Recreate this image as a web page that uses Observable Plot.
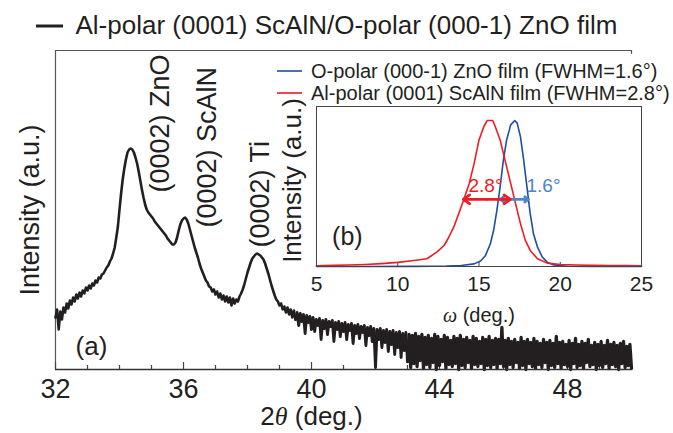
<!DOCTYPE html>
<html><head><meta charset="utf-8">
<script src="https://cdn.jsdelivr.net/npm/d3@7"></script>
<script src="https://cdn.jsdelivr.net/npm/@observablehq/plot@0.6"></script>
<style>
body{margin:0;background:#fff;}
#wrap{position:relative;width:673px;height:433px;}
#wrap svg{position:absolute;overflow:visible;}
</style></head><body><div id="wrap"></div>
<script>
// ---- Main XRD scan (2θ from 32 to 50 in 0.05° steps), intensity in arbitrary units ----
const twoThetaStart = 32;
const twoThetaStep = 0.05;
const intensityMain = [
52,60,40,58,50,62,57,66,61,69,65,72,68,75,71,77,73,79,76,82,79,
84,81,86,84,89,87,92,91,95,96,99,102,104,108,111,116,122,132,143,160,
176,190,201,210,217,220,221,220,217,212,206,198,189,180,172,165,160,157,155,153,
151,148,146,144,142,140,138,136,134,131,129,127,125,125,127,132,139,145,149,151,
152,150,146,140,134,128,122,117,112,106,101,97,93,89,87,83,82,78,80,75,
78,72,76,70,74,68,73,67,72,64,71,66,70,68,73,76,80,85,91,97,
102,107,111,113,115,116,115,114,112,110,106,101,96,90,84,79,74,70,68,64,
66,60,63,57,62,55,60,52,59,50,57,44,56,48,55,36,54,47,53,40,
52,38,50,44,51,30,49,41,50,35,48,43,49,28,47,40,48,33,46,38,
47,30,45,39,46,26,44,36,45,31,43,37,44,24,42,34,43,28,41,2,
40,30,41,22,39,27,40,18,38,25,39,15,37,22,38,12,36,19,37,8,
35,2,34,6,36,3,33,9,35,1,32,5,34,2,31,7,35,0,33,4,
30,8,34,1,32,5,29,3,33,6,31,0,34,4,30,2,32,7,29,1,
33,5,31,3,28,6,32,0,30,4,33,2,29,5,31,1,30,6,42,3,
29,0,31,5,28,2,30,7,27,1,32,4,28,0,30,6,27,3,31,1,
28,5,26,2,30,7,27,0,29,4,26,2,33,6,27,1,28,5,25,3,
29,0,26,6,31,2,25,4,28,1,26,7,30,3,24,5,27,0,25,4,
28,2,24,6,29,1,25,5,27,3,24,0,26,6,28,2,23,4,25,1
];
const twoTheta = intensityMain.map((_, i) => +(twoThetaStart + i * twoThetaStep).toFixed(2));
const majorTicks = [32, 36, 40, 44, 48];
const minorTicks = [33, 34, 35, 37, 38, 39, 41, 42, 43, 45, 46, 47, 49];
const peakNames = ["(0002) ZnO", "(0002) ScAlN", "(0002) Ti"];
const mainLegend = "Al-polar (0001) ScAlN/O-polar (000-1) ZnO film";

// ---- Inset: rocking curves ----
const omegaScAlN = [5,6,7,8,9,10,11,11.8,12.4,12.85,13.15,13.45,13.75,14.05,14.4,14.7,15.0,15.3,15.5,15.85,16.0,16.3,16.6,16.95,17.25,17.55,17.85,18.15,18.6,19.2,20,21,22,23,24,25];
const intScAlN   = [0.005,0.008,0.01,0.014,0.02,0.028,0.041,0.053,0.099,0.144,0.202,0.271,0.362,0.454,0.569,0.706,0.867,0.959,1.0,1.0,0.959,0.867,0.729,0.569,0.431,0.294,0.179,0.11,0.053,0.023,0.014,0.01,0.008,0.007,0.006,0.005];
const omegaZnO = [5,8,11,13,13.9,14.7,15.1,15.4,15.7,15.9,16.1,16.3,16.5,16.7,16.95,17.2,17.35,17.55,17.75,17.95,18.15,18.35,18.6,18.9,19.2,19.6,20.4,22,25];
const intZnO   = [0,0,0.001,0.003,0.007,0.018,0.037,0.076,0.156,0.248,0.385,0.546,0.729,0.867,0.97,1.0,0.982,0.89,0.729,0.546,0.362,0.225,0.133,0.064,0.03,0.011,0.002,0,0];
const omegaTicks = [5, 10, 15, 20, 25];
const fwhmZnO = [16.3, 18.05];
const fwhmScAlN = [14.03, 16.94];
const insetLegend = ["O-polar (000-1) ZnO film (FWHM=1.6°)", "Al-polar (0001) ScAlN film (FWHM=2.8°)"];

const FONT = "'Liberation Sans', Arial, Helvetica, sans-serif";
const SERIF = "'Liberation Serif', 'Times New Roman', serif";
const INK = "#231f20";
const BLUE = "#1f4fa3", RED = "#ec1c24", LBLUE = "#4f84c8";

const mainData = twoTheta.map((x, i) => ({x, y: intensityMain[i]}));
const smoothPart = mainData.filter(d => d.x <= 39.5);
const midPart = mainData.filter(d => d.x >= 39.5 && d.x <= 43);
const noisyPart = mainData.filter(d => d.x >= 43);

const main = Plot.plot({
  width: 673, height: 433,
  marginLeft: 55, marginRight: 42, marginTop: 50, marginBottom: 64,
  x: {domain: [32, 50], axis: null},
  y: {domain: [0, 319], axis: null},
  style: {fontFamily: FONT, background: "transparent", color: INK, overflow: "visible"},
  marks: [
    Plot.ruleX([32], {y1: 0, y2: 319, stroke: "#555", strokeWidth: 1.2}),
    Plot.ruleY([319], {x1: 32, x2: 50, stroke: "#555", strokeWidth: 1.2}),
    Plot.ruleX([50], {y1: 319, y2: 315, stroke: "#555", strokeWidth: 1.2}),
    Plot.ruleX(majorTicks, {y1: 0, y2: 7, stroke: "#444", strokeWidth: 1.2}),
    Plot.ruleX(minorTicks, {y1: 0, y2: 4, stroke: "#444", strokeWidth: 1.2}),
    Plot.line(smoothPart, {x: "x", y: "y", stroke: INK, strokeWidth: 2.6, strokeLinejoin: "round"}),
    Plot.line(midPart, {x: "x", y: "y", stroke: INK, strokeWidth: 2.9, strokeLinejoin: "round"}),
    Plot.line(noisyPart, {x: "x", y: "y", stroke: INK, strokeWidth: 3.3, strokeLinejoin: "round"}),
    Plot.ruleY([0], {x1: 32, x2: 50, stroke: "#333", strokeWidth: 1.5}),
    Plot.text(majorTicks, {x: d => d, y: -20, text: d => String(d), fontSize: 27, lineAnchor: "middle", fill: INK}),
    Plot.text(["2θ (deg.)"], {x: 40, y: -47, text: d => d, fontSize: 26, lineAnchor: "middle", fill: INK}),
    Plot.text(["Intensity (a.u.)"], {frameAnchor: "left", dx: -25, rotate: -90, textAnchor: "middle", lineAnchor: "middle", text: d => d, fontSize: 27, fill: INK}),
    Plot.text([mainLegend], {frameAnchor: "top-left", dx: 20, dy: -25, textAnchor: "start", lineAnchor: "middle", text: d => d, fontSize: 26, fill: INK}),
    Plot.text(["(a)"], {x: 33.125, y: 23, text: d => d, fontSize: 26, lineAnchor: "middle", fill: INK}),
    Plot.text(peakNames, {
      x: [35.28, 36.75, 38.41], y: [177, 142, 122],
      text: d => d, rotate: -90, textAnchor: "start", lineAnchor: "middle", fontSize: 27, fill: INK
    })
  ]
});

const svgMain = d3.select(main);
svgMain.append("line").attr("x1", 36).attr("x2", 63).attr("y1", 26).attr("y2", 26)
  .attr("stroke", INK).attr("stroke-width", 3);
svgMain.style("left", "0px").style("top", "0px");
document.getElementById("wrap").appendChild(main);

const redData = omegaScAlN.map((x, i) => ({x, y: intScAlN[i]}));
const blueData = omegaZnO.map((x, i) => ({x, y: intZnO[i]}));
const midZ = (fwhmZnO[0] + fwhmZnO[1]) / 2, midS = (fwhmScAlN[0] + fwhmScAlN[1]) / 2;
const yArrow = 0.46;

const inset = Plot.plot({
  width: 423, height: 280,
  marginLeft: 66, marginRight: 32, marginTop: 56, marginBottom: 64,
  x: {domain: [5, 25], axis: null},
  y: {domain: [0, 1.096], axis: null},
  style: {fontFamily: FONT, background: "transparent", color: INK, overflow: "visible"},
  marks: [
    Plot.ruleX([10, 15, 20], {y1: 0, y2: 0.028, stroke: "#444"}),
    Plot.line(blueData, {x: "x", y: "y", stroke: BLUE, strokeWidth: 1.6}),
    Plot.line(redData, {x: "x", y: "y", stroke: RED, strokeWidth: 1.6}),
    Plot.arrow([fwhmZnO[0], fwhmZnO[1]], {x1: midZ, y1: yArrow, x2: d => d, y2: yArrow, stroke: LBLUE, strokeWidth: 2.6, headLength: 9, headAngle: 70}),
    Plot.arrow([fwhmScAlN[0], fwhmScAlN[1]], {x1: midS, y1: yArrow, x2: d => d, y2: yArrow, stroke: RED, strokeWidth: 2.6, headLength: 9, headAngle: 70}),
    Plot.text(["2.8°"], {x: 15.4, y: 0.555, text: d => d, fontSize: 19, fill: RED, lineAnchor: "middle"}),
    Plot.text(["1.6°"], {x: 18.97, y: 0.555, text: d => d, fontSize: 19, fill: LBLUE, lineAnchor: "middle"}),
    Plot.text(["(b)"], {x: 6.9, y: 0.2, text: d => d, fontSize: 25, fill: INK, lineAnchor: "middle"}),
    Plot.frame({stroke: "#444", strokeWidth: 1}),
    Plot.text(omegaTicks, {x: d => d, y: -0.12, text: d => String(d), fontSize: 21, lineAnchor: "middle", fill: INK}),
    Plot.text(["ω (deg.)"], {frameAnchor: "bottom", dy: 49, text: d => d, fontSize: 20, textAnchor: "middle", lineAnchor: "middle", fill: INK}),
    Plot.text(["Intensity (a.u.)"], {frameAnchor: "left", dx: -24, dy: -6, rotate: -90, textAnchor: "middle", lineAnchor: "middle", text: d => d, fontSize: 26, fill: INK})
  ]
});
const svgInset = d3.select(inset);
svgInset.style("left", "250px").style("top", "50px");
[[insetLegend[0], BLUE, 21], [insetLegend[1], RED, 43]].forEach(([t, c, y]) => {
  svgInset.append("line").attr("x1", 27).attr("x2", 52).attr("y1", y).attr("y2", y).attr("stroke", c).attr("stroke-width", 1.6);
  svgInset.append("text").attr("x", 61).attr("y", y).attr("dy", "0.35em").attr("font-size", 20)
    .attr("text-anchor", "start").attr("font-family", FONT).attr("fill", INK).text(t);
});
document.getElementById("wrap").appendChild(inset);

// italic Greek symbols in axis titles
d3.selectAll("#wrap text").each(function () {
  const t = this.textContent;
  if (t === "2θ (deg.)") {
    this.textContent = "";
    const s = d3.select(this);
    s.append("tspan").text("2");
    s.append("tspan").attr("font-family", SERIF).attr("font-style", "italic").text("θ");
    s.append("tspan").text(" (deg.)");
  } else if (t === "ω (deg.)") {
    this.textContent = "";
    const s = d3.select(this);
    s.append("tspan").attr("font-family", SERIF).attr("font-style", "italic").text("ω");
    s.append("tspan").text(" (deg.)");
  }
});
</script></body></html>
